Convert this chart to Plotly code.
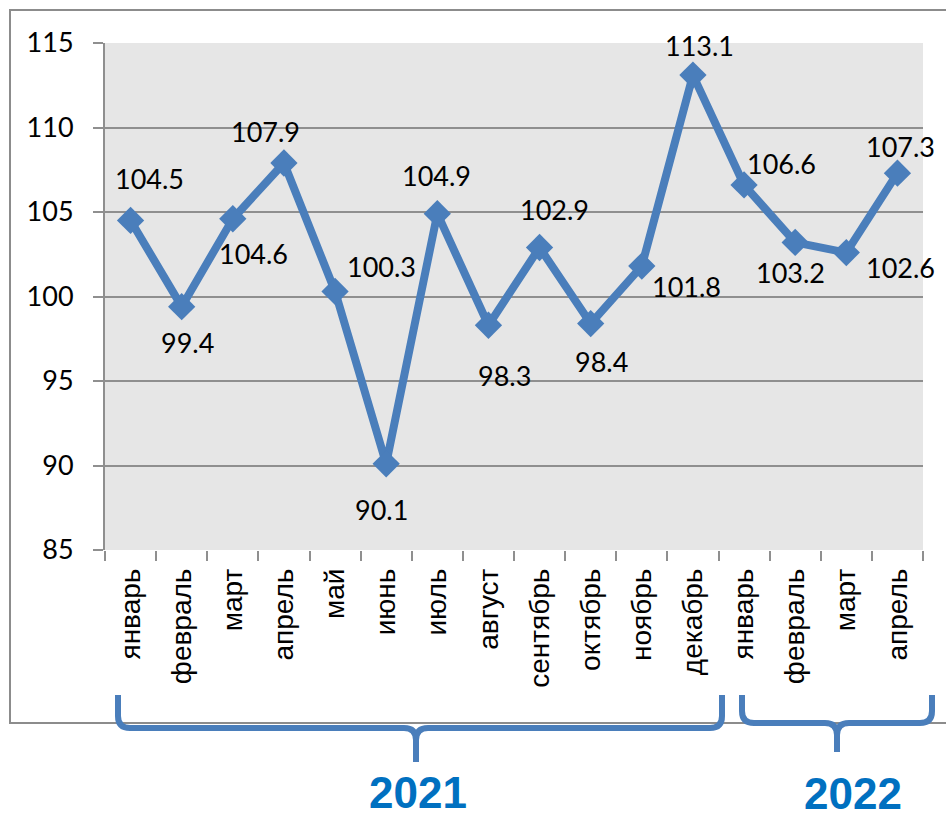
import plotly.graph_objects as go

# ---- data ----
months = ["январь", "февраль", "март", "апрель", "май", "июнь", "июль", "август",
          "сентябрь", "октябрь", "ноябрь", "декабрь",
          "январь", "февраль", "март", "апрель"]
values = [104.5, 99.4, 104.6, 107.9, 100.3, 90.1, 104.9, 98.3,
          102.9, 98.4, 101.8, 113.1, 106.6, 103.2, 102.6, 107.3]
years = ["2021", "2022"]
y_ticks = [85, 90, 95, 100, 105, 110, 115]

# ---- styling (label offsets in pixels: dx right, dy down) ----
label_dx = [19, 6, 21, -18, 46, -5, -1, 16, 15, 11, 45, 7, 37, -5, 54, 3]
label_dy = [-42, 36, 35, -31, -25, 46, -38, 50, -38, 38, 20, -30, -21, 30, 15, -27]

W, H = 946, 820
L, R, T, B = 105, 23, 43, 270
PW, PH = W - L - R, H - T - B

def px(x):
    return (x - L) / PW

def py(y):
    return (H - B - y) / PH

BLUE = "#4a7ebb"
GRID = "#8f8f8f"

xs = list(range(len(values)))

fig = go.Figure()
fig.add_trace(go.Scatter(
    x=xs, y=values, mode="lines+markers",
    line=dict(color=BLUE, width=8),
    marker=dict(symbol="diamond", size=21, color=BLUE),
    hoverinfo="skip", cliponaxis=False,
))

annotations = []
for i, v in enumerate(values):
    annotations.append(dict(
        x=xs[i], y=v, xref="x", yref="y", text=f"{v:.1f}", showarrow=False,
        xshift=label_dx[i], yshift=-label_dy[i],
        font=dict(family="Lato", size=27, color="black"),
        xanchor="center", yanchor="middle",
    ))

# year labels
annotations.append(dict(x=px(418), y=py(792), xref="paper", yref="paper", text=years[0],
                        showarrow=False, xanchor="center", yanchor="middle",
                        font=dict(family="Liberation Sans", size=44, color="#0070c0", weight="bold")))
annotations.append(dict(x=px(853), y=py(793), xref="paper", yref="paper", text=years[1],
                        showarrow=False, xanchor="center", yanchor="middle",
                        font=dict(family="Liberation Sans", size=44, color="#0070c0", weight="bold")))

def brace_path(x0, x1, xm, yh, ytop, ytip, r=12):
    pts = []
    pts.append(f"M {px(x0)},{py(ytop)}")
    pts.append(f"L {px(x0)},{py(yh - r)}")
    pts.append(f"Q {px(x0)},{py(yh)} {px(x0 + r)},{py(yh)}")
    pts.append(f"L {px(xm - r)},{py(yh)}")
    pts.append(f"Q {px(xm)},{py(yh)} {px(xm)},{py(yh + r)}")
    pts.append(f"L {px(xm)},{py(ytip)}")
    pts.append(f"M {px(xm)},{py(yh + r)}")
    pts.append(f"Q {px(xm)},{py(yh)} {px(xm + r)},{py(yh)}")
    pts.append(f"L {px(x1 - r)},{py(yh)}")
    pts.append(f"Q {px(x1)},{py(yh)} {px(x1)},{py(yh - r)}")
    pts.append(f"L {px(x1)},{py(ytop)}")
    return " ".join(pts)

shapes = [
    # outer frame
    dict(type="rect", xref="paper", yref="paper",
         x0=px(10), x1=px(960), y0=py(723), y1=py(10),
         line=dict(color="#8c8c8c", width=2), fillcolor="rgba(0,0,0,0)", layer="below"),
    dict(type="path", xref="paper", yref="paper",
         path=brace_path(118, 722, 416, 728, 695, 762),
         line=dict(color=BLUE, width=6)),
    dict(type="path", xref="paper", yref="paper",
         path=brace_path(742, 932, 837, 723, 695, 752),
         line=dict(color=BLUE, width=6)),
]

fig.update_layout(
    width=W, height=H,
    margin=dict(l=L, r=R, t=T, b=B, pad=0),
    paper_bgcolor="white", plot_bgcolor="#e6e6e6",
    showlegend=False,
    annotations=annotations, shapes=shapes,
)

fig.update_xaxes(
    range=[-0.5, len(values) - 0.5],
    tickmode="array", tickvals=xs, ticktext=months, tickangle=-90,
    ticks="", showgrid=False, zeroline=False,
    showline=False,
    tickfont=dict(family="Liberation Sans", size=28, color="black"),
    ticklabelstandoff=12,
    minor=dict(tickvals=[i - 0.5 for i in range(len(values) + 1)], ticks="outside",
               ticklen=10, tickcolor=GRID, tickwidth=2, showgrid=False),
)
fig.update_yaxes(
    range=[85, 115], tickmode="array", tickvals=y_ticks,
    ticks="outside", ticklen=10, tickcolor=GRID, tickwidth=2,
    showgrid=True, gridcolor=GRID, gridwidth=2,
    showline=True, linecolor=GRID, linewidth=2, zeroline=False,
    tickfont=dict(family="Lato", size=27, color="black"),
    ticklabelstandoff=14,
)

fig.write_html("out.html", config={"displayModeBar": False},
               post_script="document.body.style.margin='0';")
